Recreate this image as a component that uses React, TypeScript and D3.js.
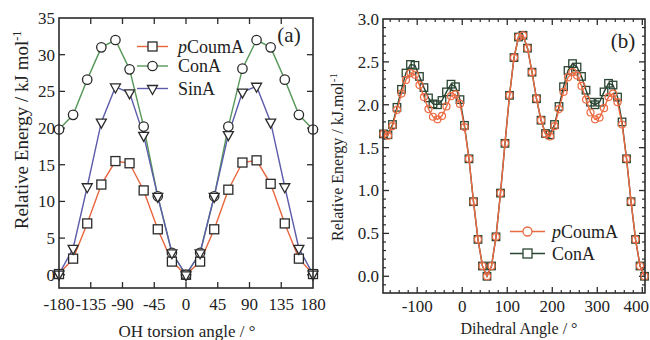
import React from "react";
import * as d3 from "d3";

// ---------- Panel (a) data ----------
const anglesA = [-180, -160, -140, -120, -100, -80, -60, -40, -20, 0, 20, 40, 60, 80, 100, 120, 140, 160, 180];
const pCoumA_a = [0.1, 2.2, 7.0, 12.3, 15.5, 15.2, 11.5, 6.2, 1.8, 0, 1.8, 6.2, 11.6, 15.3, 15.6, 12.4, 7.0, 2.2, 0.1];
const conA_a = [19.8, 21.8, 26.6, 31.0, 32.0, 28.0, 20.2, 10.7, 3.0, 0, 3.0, 10.7, 20.2, 28.1, 32.0, 31.0, 26.6, 21.8, 19.8];
const sinA_a = [0.1, 3.6, 12.0, 20.8, 25.6, 24.8, 19.0, 10.7, 3.0, 0, 3.0, 10.7, 19.1, 24.9, 25.7, 20.8, 12.0, 3.6, 0.1];
const xTicksA = [-180, -135, -90, -45, 0, 45, 90, 135, 180];
const yTicksA = [0, 5, 10, 15, 20, 25, 30, 35];

// ---------- Panel (b) data ----------
const anglesB = [
  -175, -165, -155, -145, -135, -125, -115, -105, -95, -85, -75, -65, -55, -45, -35, -25, -15, -5,
  5, 15, 25, 35, 45, 55, 65, 75, 85, 95, 105, 115, 125, 135, 145, 155, 165, 175,
  185, 195, 205, 215, 225, 235, 245, 255, 265, 275, 285, 295, 305, 315, 325, 335, 345, 355,
  365, 375, 385, 395, 405,
];
const conA_b = [
  1.66, 1.65, 1.77, 1.97, 2.18, 2.37, 2.47, 2.46, 2.33, 2.20, 2.08, 2.01, 2.00, 2.05, 2.15, 2.24, 2.21, 2.06,
  1.76, 1.37, 0.87, 0.43, 0.12, 0.0, 0.12, 0.46, 0.97, 1.55, 2.11, 2.55, 2.79, 2.81, 2.66, 2.38, 2.07, 1.82,
  1.665, 1.65, 1.77, 1.98, 2.21, 2.40, 2.48, 2.44, 2.33, 2.17, 2.03, 2.00, 2.03, 2.15, 2.25, 2.23, 2.09, 1.80,
  1.37, 0.87, 0.43, 0.12, 0.0,
];
const pCoumA_b = [
  1.66, 1.64, 1.75, 1.94, 2.13, 2.29, 2.37, 2.35, 2.23, 2.09, 1.95, 1.86, 1.83, 1.87, 1.98, 2.10, 2.12, 2.01,
  1.74, 1.37, 0.87, 0.43, 0.12, 0.0, 0.12, 0.46, 0.97, 1.55, 2.11, 2.55, 2.79, 2.81, 2.66, 2.38, 2.07, 1.82,
  1.66, 1.63, 1.75, 1.95, 2.15, 2.32, 2.38, 2.34, 2.22, 2.06, 1.91, 1.83, 1.85, 1.96, 2.09, 2.13, 2.03, 1.77,
  1.37, 0.87, 0.43, 0.12, 0.0,
];
const xTicksB = [-100, 0, 100, 200, 300, 400];
const xMinorB = d3.range(-160, 401, 20);
const yTicksB = [0, 0.5, 1.0, 1.5, 2.0, 2.5, 3.0];
const yMinorB = d3.range(-1, 31, 1).map((v) => v / 10);

const FONT = "'Liberation Serif', 'Times New Roman', serif";
const AX = "#2b2b2b";

const cA = { p: "#e8653d", c: "#57985a", s: "#5c5cab" };
const cB = { p: "#ec6a42", c: "#2a4532" };

function Square({ x, y, s, stroke, fill = "none", sw = 1.3 }: any) {
  return <rect x={x - s / 2} y={y - s / 2} width={s} height={s} fill={fill} stroke={stroke} strokeWidth={sw} />;
}
function Circle({ x, y, r, stroke, fill = "none", sw = 1.3 }: any) {
  return <circle cx={x} cy={y} r={r} fill={fill} stroke={stroke} strokeWidth={sw} />;
}
function TriDown({ x, y, w, stroke, fill = "none", sw = 1.3 }: any) {
  const h = w * 0.9;
  const d = `M${x - w / 2},${y - h / 3}L${x + w / 2},${y - h / 3}L${x},${y + (2 * h) / 3}Z`;
  return <path d={d} fill={fill} stroke={stroke} strokeWidth={sw} />;
}

export default function App() {
  // Panel (a)
  const xA = d3.scaleLinear().domain([-180, 180]).range([59, 313]);
  const yA = d3.scaleLinear().domain([-1.8, 35]).range([288, 18]);
  const lineA = (vals: number[]) =>
    d3.line<number>().x((_, i) => xA(anglesA[i])).y((v) => yA(v))(vals) || "";

  // Panel (b)
  const xB = d3.scaleLinear().domain([-176, 406]).range([383, 645]);
  const yB = d3.scaleLinear().domain([-0.195, 3.0]).range([293, 19]);
  const lineB = (vals: number[]) =>
    d3.line<number>().x((_, i) => xB(anglesB[i])).y((v) => yB(v))(vals) || "";

  const [ax0, ax1] = xA.range();
  const [ay0, ay1] = yA.range(); // bottom, top
  const [bx0, bx1] = xB.range();
  const [by0, by1] = yB.range();

  const mk = "#2a2a2a";

  return (
    <svg width={650} height={340} style={{ position: "absolute", left: 0, top: 0, background: "#fff" }} fontFamily={FONT}>
      <rect x={0} y={0} width={650} height={340} fill="#fff" />
      {/* ===== Panel (a) ===== */}
      <g>
        {xTicksA.filter((t) => t !== -180 && t !== 180).map((t) => (
          <g key={"xa" + t}>
            <line x1={xA(t)} x2={xA(t)} y1={ay0} y2={ay0 - 6} stroke={AX} strokeWidth={1.3} />
            <line x1={xA(t)} x2={xA(t)} y1={ay1} y2={ay1 + 6} stroke={AX} strokeWidth={1.3} />
          </g>
        ))}
        {yTicksA.filter((t) => t !== 35).map((t) => (
          <g key={"ya" + t}>
            <line x1={ax0} x2={ax0 + 6} y1={yA(t)} y2={yA(t)} stroke={AX} strokeWidth={1.3} />
            <line x1={ax1} x2={ax1 - 6} y1={yA(t)} y2={yA(t)} stroke={AX} strokeWidth={1.3} />
          </g>
        ))}
        {xTicksA.map((t) => (
          <text key={"xal" + t} x={xA(t)} y={310} textAnchor="middle" fontSize={17} fill="#222">
            {String(t)}
          </text>
        ))}
        {yTicksA.map((t) => (
          <text key={"yal" + t} x={55} y={yA(t)} dy="0.35em" textAnchor="end" fontSize={17} fill="#222">
            {String(t)}
          </text>
        ))}
        <path d={lineA(pCoumA_a)} fill="none" stroke={cA.p} strokeWidth={1.4} />
        <path d={lineA(conA_a)} fill="none" stroke={cA.c} strokeWidth={1.4} />
        <path d={lineA(sinA_a)} fill="none" stroke={cA.s} strokeWidth={1.4} />
        {pCoumA_a.map((v, i) => (
          <Square key={"pa" + i} x={xA(anglesA[i])} y={yA(v)} s={9} stroke={mk} fill="#fff" />
        ))}
        {conA_a.map((v, i) => (
          <Circle key={"ca" + i} x={xA(anglesA[i])} y={yA(v)} r={4.7} stroke={mk} fill="#fff" />
        ))}
        {sinA_a.map((v, i) => (
          <TriDown key={"sa" + i} x={xA(anglesA[i])} y={yA(v)} w={10} stroke={mk} fill="#fff" />
        ))}
        <rect x={ax0} y={ay1} width={ax1 - ax0} height={ay0 - ay1} fill="none" stroke={AX} strokeWidth={1.6} />
        <g>
          <line x1={137} x2={168} y1={46.5} y2={46.5} stroke={cA.p} strokeWidth={1.4} />
          <Square x={152.5} y={46.5} s={9} stroke={mk} fill="#fff" />
          <text x={178} y={46.5} dy="0.35em" fontSize={18} fill="#222">
            <tspan fontStyle="italic">p</tspan>CoumA
          </text>
          <line x1={137} x2={168} y1={66} y2={66} stroke={cA.c} strokeWidth={1.4} />
          <Circle x={152.5} y={66} r={4.7} stroke={mk} fill="#fff" />
          <text x={178} y={66} dy="0.35em" fontSize={18} fill="#222">ConA</text>
          <line x1={137} x2={168} y1={88.5} y2={88.5} stroke={cA.s} strokeWidth={1.4} />
          <TriDown x={152.5} y={88.5} w={10} stroke={mk} fill="#fff" />
          <text x={178} y={88.5} dy="0.35em" fontSize={18} fill="#222">SinA</text>
        </g>
        <text x={289} y={42} textAnchor="middle" fontSize={21} fill="#222">(a)</text>
        <text x={187} y={337} textAnchor="middle" fontSize={17} fill="#222">OH torsion angle / °</text>
        <text transform={`translate(28,${130}) rotate(-90)`} textAnchor="middle" fontSize={19} fill="#222">
          Relative Energy / kJ mol<tspan dy={-7} fontSize={12}>-1</tspan>
        </text>
      </g>

      {/* ===== Panel (b) ===== */}
      <g>
        {xMinorB.filter((t) => !xTicksB.includes(t)).map((t) => (
          <g key={"xbm" + t}>
            <line x1={xB(t)} x2={xB(t)} y1={by0} y2={by0 - 3} stroke={AX} strokeWidth={1.2} />
            <line x1={xB(t)} x2={xB(t)} y1={by1} y2={by1 + 3} stroke={AX} strokeWidth={1.2} />
          </g>
        ))}
        {xTicksB.map((t) => (
          <g key={"xb" + t}>
            <line x1={xB(t)} x2={xB(t)} y1={by0} y2={by0 - 6} stroke={AX} strokeWidth={1.3} />
            <line x1={xB(t)} x2={xB(t)} y1={by1} y2={by1 + 6} stroke={AX} strokeWidth={1.3} />
          </g>
        ))}
        {yMinorB.filter((t) => Math.abs((t * 10) % 5) > 0.01).map((t) => (
          <g key={"ybm" + t}>
            <line x1={bx0} x2={bx0 + 3} y1={yB(t)} y2={yB(t)} stroke={AX} strokeWidth={1.2} />
            <line x1={bx1} x2={bx1 - 3} y1={yB(t)} y2={yB(t)} stroke={AX} strokeWidth={1.2} />
          </g>
        ))}
        {yTicksB.filter((t) => t !== 3.0).map((t) => (
          <g key={"yb" + t}>
            <line x1={bx0} x2={bx0 + 6} y1={yB(t)} y2={yB(t)} stroke={AX} strokeWidth={1.3} />
            <line x1={bx1} x2={bx1 - 6} y1={yB(t)} y2={yB(t)} stroke={AX} strokeWidth={1.3} />
          </g>
        ))}
        {xTicksB.map((t, i) => {
          const last = i === xTicksB.length - 1;
          return (
            <text
              key={"xbl" + t}
              x={last ? 649 : xB(t)}
              y={312}
              textAnchor={last ? "end" : "middle"}
              fontSize={17}
              fill="#222"
            >
              {String(t)}
            </text>
          );
        })}
        {yTicksB.map((t) => (
          <text key={"ybl" + t} x={379} y={yB(t)} dy="0.35em" textAnchor="end" fontSize={17} fill="#222">
            {t.toFixed(1)}
          </text>
        ))}
        <path d={lineB(conA_b)} fill="none" stroke={cB.c} strokeWidth={1.4} />
        {conA_b.map((v, i) => (
          <Square key={"cb" + i} x={xB(anglesB[i])} y={yB(v)} s={7.5} stroke={cB.c} sw={1.3} />
        ))}
        <path d={lineB(pCoumA_b)} fill="none" stroke={cB.p} strokeWidth={1.4} />
        {pCoumA_b.map((v, i) => (
          <Circle key={"pb" + i} x={xB(anglesB[i])} y={yB(v)} r={3.5} stroke={cB.p} sw={1.2} />
        ))}
        <rect x={bx0} y={by1} width={bx1 - bx0} height={by0 - by1} fill="none" stroke={AX} strokeWidth={1.6} />
        <g>
          <line x1={510} x2={545} y1={231.5} y2={231.5} stroke={cB.p} strokeWidth={1.4} />
          <Circle x={527.5} y={231.5} r={4.5} stroke={cB.p} fill="#fff" sw={1.3} />
          <text x={552} y={231.5} dy="0.35em" fontSize={18} fill="#222">
            <tspan fontStyle="italic">p</tspan>CoumA
          </text>
          <line x1={510} x2={545} y1={253.5} y2={253.5} stroke={cB.c} strokeWidth={1.4} />
          <Square x={527.5} y={253.5} s={9} stroke={cB.c} fill="#fff" sw={1.3} />
          <text x={552} y={253.5} dy="0.35em" fontSize={18} fill="#222">ConA</text>
        </g>
        <text x={623} y={48} textAnchor="middle" fontSize={21} fill="#222">(b)</text>
        <text x={519} y={334} textAnchor="middle" fontSize={16} fill="#222">Dihedral Angle / °</text>
        <text transform={`translate(343,${157}) rotate(-90)`} textAnchor="middle" fontSize={16} fill="#222">
          Relative Energy / kJ.mol<tspan dy={-6} fontSize={11}>-1</tspan>
        </text>
      </g>
    </svg>
  );
}
